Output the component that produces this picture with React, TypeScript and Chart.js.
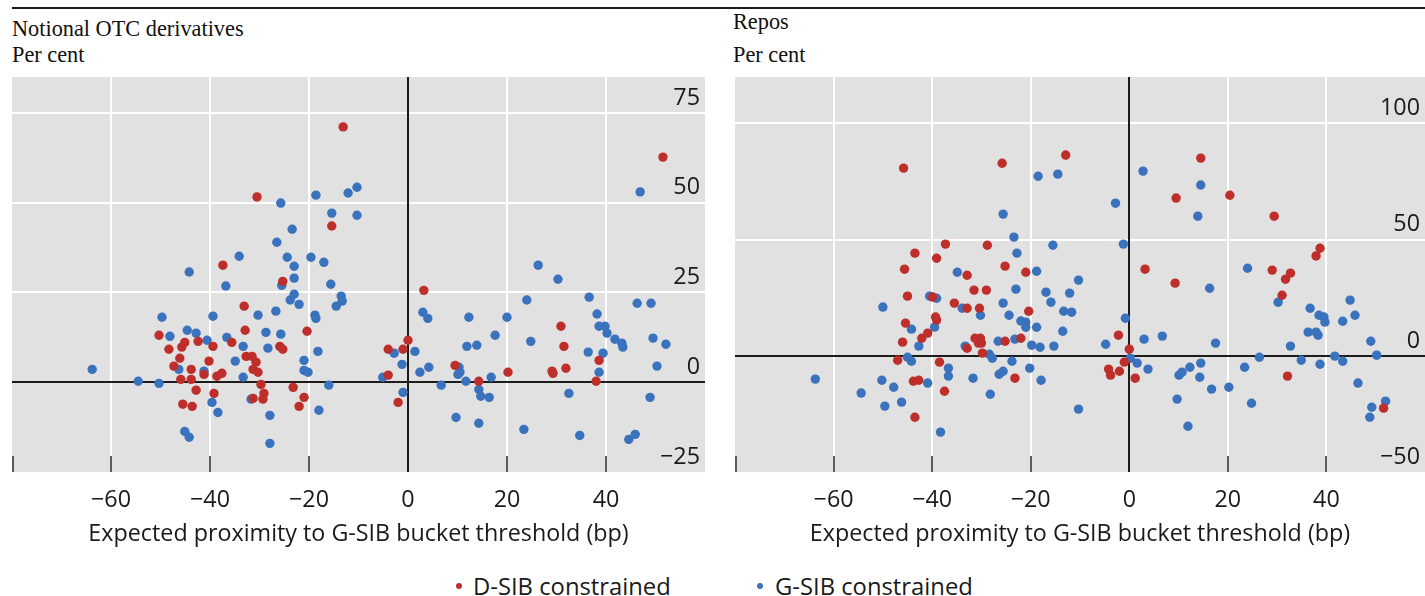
import React, { useEffect, useRef } from "react";
import { Chart, registerables } from "chart.js";

Chart.register(...registerables);

type Pt = [number, number];

// ---------- DATA ----------
const panelTitles = ["Notional OTC derivatives", "Repos"];
const unitLabel = "Per cent";
const xAxisTitle = "Expected proximity to G-SIB bucket threshold (bp)";
const seriesNames = ["D-SIB constrained", "G-SIB constrained"];

const xTickValues = [-80, -60, -40, -20, 0, 20, 40, 60];
const otcYTickValues = [-25, 0, 25, 50, 75];
const repoYTickValues = [-50, 0, 50, 100];

// Notional OTC derivatives: [proximity (bp), per cent]
const otcDsib: Pt[] = [
  [-37.4, 32.6], [-50.3, 13.1], [-45.1, 11.1], [-45.7, 9.8], [-42.4, 11.4], [-39.4, 10.0],
  [-35.6, 11.1], [-48.3, 9.2], [-46.1, 6.7], [-40.2, 5.9], [-47.3, 4.5], [-43.8, 3.6],
  [-41.2, 2.2], [-38.6, 1.7], [-37.6, 2.5], [-45.9, 0.8], [-43.8, 0.8], [-42.8, -2.2],
  [-39.2, -3.1], [-45.5, -6.1], [-43.6, -6.7], [-33.1, 21.2], [-32.9, 14.5], [-32.7, 7.2],
  [-31.5, 7.2], [-30.7, 5.6], [-31.3, 3.6], [-30.3, 2.8], [-29.7, -0.6], [-29.1, -3.1],
  [-29.3, -4.7], [-31.3, -4.5], [-30.5, 51.6], [-25.3, 28.1], [-20.4, 14.2], [-25.9, 10.0],
  [-25.3, 9.2], [-23.2, -1.4], [-21.0, -4.2], [-22.0, -6.7], [-13.1, 71.1], [-15.4, 43.5],
  [-4.0, 9.2], [-1.0, 9.2], [0.0, 11.7], [-4.0, 2.0], [-2.0, -5.6], [3.2, 25.6],
  [51.5, 62.7], [30.9, 15.6], [31.5, 10.0], [38.6, 6.1], [20.2, 2.8], [29.1, 3.1],
  [29.3, 2.5], [31.9, 3.9], [9.5, 4.7], [14.3, 0.3], [38.0, 0.3],
];

const otcGsib: Pt[] = [
  [-63.8, 3.6], [-54.5, 0.3], [-50.3, -0.3], [-49.7, 18.1], [-44.2, 30.7], [-36.8, 26.8],
  [-34.1, 35.1], [-39.4, 18.4], [-48.1, 12.8], [-44.6, 14.5], [-42.8, 13.7], [-40.6, 11.7],
  [-36.6, 12.5], [-34.9, 5.9], [-46.3, 3.6], [-41.2, 3.1], [-39.6, -5.6], [-38.4, -8.4],
  [-45.1, -13.7], [-44.2, -15.3], [-33.3, 1.4], [-33.3, 10.0], [-30.3, 18.7], [-26.7, 19.8],
  [-28.7, 13.9], [-25.7, 13.4], [-28.3, 9.5], [-31.7, -4.7], [-27.9, -9.2], [-27.9, -17.0],
  [-25.7, 49.9], [-18.6, 52.1], [-12.1, 52.7], [-10.3, 54.3], [-15.4, 47.1], [-10.3, 46.5],
  [-23.4, 42.6], [-26.5, 39.0], [-24.4, 34.8], [-23.0, 32.3], [-19.6, 34.8], [-17.0, 33.4],
  [-23.0, 29.0], [-25.5, 27.0], [-15.6, 27.3], [-23.0, 24.5], [-23.8, 22.9], [-22.0, 21.7],
  [-13.5, 24.0], [-13.3, 22.6], [-14.5, 21.2], [-18.8, 18.7], [-18.6, 17.8], [-18.2, 8.6],
  [-21.0, 6.1], [-21.0, 3.3], [-20.2, 2.8], [-16.0, -0.8], [-18.0, -7.8], [-2.8, 8.1],
  [1.4, 8.6], [-1.2, 5.0], [-5.1, 1.4], [-1.0, -2.8], [2.4, 2.8], [4.2, 4.2],
  [3.0, 19.5], [4.0, 17.8], [12.3, 18.1], [20.0, 18.1], [17.6, 13.1], [24.8, 11.4],
  [26.3, 32.6], [30.3, 28.7], [24.0, 22.9], [36.6, 23.7], [38.2, 19.0], [38.6, 15.6],
  [39.8, 15.6], [40.2, 13.7], [41.8, 12.0], [43.2, 10.9], [43.4, 9.8], [46.3, 22.0],
  [49.1, 22.0], [49.5, 12.3], [52.1, 10.6], [46.9, 53.0], [11.9, 10.0], [13.9, 10.3],
  [36.4, 8.4], [39.4, 8.1], [50.3, 4.5], [38.6, 2.8], [10.3, 4.2], [10.5, 2.8],
  [10.1, 2.2], [16.8, 1.4], [11.7, 0.3], [6.7, -0.8], [14.3, -2.0], [14.7, -3.9],
  [16.4, -4.2], [32.5, -3.1], [48.9, -4.2], [9.7, -9.8], [14.3, -11.4], [23.4, -13.1],
  [34.7, -14.8], [44.6, -15.9], [45.9, -14.5],
];

// Repos: [proximity (bp), per cent]
const repoDsib: Pt[] = [
  [-45.8, 80.8], [-37.3, 48.1], [-43.5, 44.2], [-39.1, 42.0], [-45.6, 37.3], [-32.9, 34.7],
  [-45.0, 25.7], [-39.9, 25.3], [-35.5, 22.7], [-32.9, 20.5], [-39.3, 16.7], [-39.1, 15.4],
  [-45.4, 14.1], [-40.9, 9.8], [-42.1, 7.6], [-46.0, 5.9], [-32.9, 3.3], [-47.0, -1.9],
  [-38.5, -2.7], [-43.8, -10.9], [-42.7, -10.5], [-37.5, -15.2], [-43.5, -26.4], [-25.8, 82.9],
  [-12.9, 86.4], [-28.8, 47.6], [-25.2, 38.6], [-21.0, 36.0], [-31.5, 28.3], [-29.0, 28.3],
  [-30.4, 20.5], [-20.4, 19.2], [-31.3, 7.6], [-30.2, 7.6], [-30.6, 5.5], [-30.0, 5.5],
  [-25.2, 6.3], [-22.0, 7.6], [-29.8, 1.2], [-23.2, -9.6], [3.2, 37.3], [-2.2, 8.9],
  [0.0, 2.9], [-1.0, -2.7], [-4.2, -5.7], [-3.8, -8.3], [-2.0, -6.6], [1.2, -9.6],
  [14.5, 85.1], [9.5, 67.9], [20.4, 69.1], [29.4, 60.1], [38.7, 46.3], [37.9, 43.0],
  [9.3, 31.3], [29.0, 36.9], [32.7, 35.6], [31.7, 33.0], [31.0, 26.1], [32.1, -8.7],
  [51.6, -22.5],
];

const repoGsib: Pt[] = [
  [-34.9, 36.0], [-40.5, 25.7], [-39.1, 24.8], [-33.9, 20.5], [-50.0, 21.0], [-39.5, 12.4],
  [-44.2, 11.5], [-42.7, 4.2], [-33.3, 4.2], [-45.0, -0.6], [-44.2, -2.3], [-36.7, -5.3],
  [-36.7, -8.7], [-63.7, -10.0], [-50.2, -10.5], [-40.9, -11.7], [-47.8, -13.5], [-54.4, -16.0],
  [-49.6, -21.6], [-46.2, -19.9], [-38.3, -32.8], [-31.7, -9.6], [-18.5, 77.3], [-14.5, 78.2],
  [2.8, 79.5], [-2.8, 65.7], [-25.6, 61.0], [-23.4, 51.1], [-15.5, 47.6], [-1.2, 48.1],
  [-22.8, 44.2], [-18.8, 36.4], [-10.3, 32.6], [-23.0, 28.7], [-16.9, 27.4], [-12.1, 27.0],
  [-30.2, 17.5], [-25.6, 22.7], [-15.9, 23.1], [-24.4, 17.5], [-13.3, 19.2], [-11.7, 18.8],
  [-22.0, 15.0], [-21.0, 14.5], [-21.0, 12.3], [-18.8, 12.3], [-0.8, 16.2], [-13.5, 10.6],
  [3.0, 7.2], [-26.6, 6.3], [-23.2, 7.2], [-19.8, 4.6], [-18.1, 3.7], [-15.3, 4.2],
  [-4.8, 5.0], [-28.4, 0.7], [-27.8, -1.0], [-23.8, -2.3], [0.2, -1.0], [1.6, -3.1],
  [-20.2, -5.3], [-25.6, -6.6], [-26.4, -7.9], [-17.9, -10.5], [-28.2, -16.5], [-10.3, -22.9],
  [3.8, -5.7], [14.5, 73.5], [13.9, 60.1], [24.0, 37.7], [16.3, 29.1], [30.2, 23.1],
  [44.8, 24.0], [36.7, 20.5], [38.5, 17.5], [39.5, 16.7], [39.7, 14.5], [45.8, 17.5],
  [43.3, 14.9], [36.3, 10.2], [37.9, 10.2], [38.3, 8.9], [6.7, 8.5], [49.0, 6.3],
  [17.5, 5.5], [32.7, 4.2], [50.2, 0.3], [26.4, -0.6], [41.7, -0.1], [43.3, -2.3],
  [34.9, -1.9], [38.7, -3.6], [14.5, -3.1], [12.3, -4.9], [10.7, -7.0], [10.1, -8.3],
  [14.3, -9.2], [23.4, -4.9], [16.7, -14.3], [20.2, -13.5], [46.4, -11.7], [9.7, -18.6],
  [24.8, -20.4], [49.2, -22.1], [52.0, -19.5], [48.8, -26.4], [11.9, -30.3],
];

// ---------- STYLE ----------
const RED = "#BE2F2B";
const BLUE = "#3A72BD";
const PLOT_BG = "#E1E1E1";
const ZERO_LINE = "#1c1c1c";
const TEXT = "#1a1a1a";
const SANS = "'Open Sans', 'Noto Sans', sans-serif";
const SERIF = "'Liberation Serif', 'DejaVu Serif', serif";
const TICK_SIZE = 23.3;
const LEGEND_SIZE = 23.8;

const fmt = (v: number) => (v < 0 ? "\u2212" + Math.abs(v) : String(v));
const CLEAR = "rgba(0,0,0,0)";

const framePlugin = {
  id: "frame",
  beforeDraw(chart: any) {
    const { ctx, chartArea: a } = chart;
    ctx.save();
    ctx.fillStyle = PLOT_BG;
    ctx.fillRect(a.left, a.top, a.right - a.left, a.bottom - a.top);
    ctx.restore();
  },
  beforeDatasetsDraw(chart: any) {
    const { ctx, chartArea: a, scales } = chart;
    const x = scales.x;
    const y = scales.y;
    ctx.save();
    // inner tick marks along the bottom edge
    ctx.strokeStyle = "#5c5c5c";
    ctx.lineWidth = 2;
    x.ticks.forEach((t: any) => {
      if (t.value >= x.max) return;
      let px = Math.round(x.getPixelForValue(t.value));
      if (px <= a.left) px = a.left + 1;
      ctx.beginPath();
      ctx.moveTo(px, a.bottom - 16);
      ctx.lineTo(px, a.bottom);
      ctx.stroke();
    });
    // zero lines
    ctx.strokeStyle = ZERO_LINE;
    ctx.lineWidth = 2;
    const y0 = Math.round(y.getPixelForValue(0));
    ctx.beginPath();
    ctx.moveTo(a.left, y0);
    ctx.lineTo(a.right, y0);
    ctx.stroke();
    const x0 = Math.round(x.getPixelForValue(0));
    ctx.beginPath();
    ctx.moveTo(x0, a.top);
    ctx.lineTo(x0, a.bottom);
    ctx.stroke();
    ctx.restore();
  },
};

type PanelProps = {
  left: number;
  top: number;
  width: number;
  height: number;
  dsib: Pt[];
  gsib: Pt[];
  yMin: number;
  yMax: number;
  yTicks: number[];
};

function Panel({ left, top, width, height, dsib, gsib, yMin, yMax, yTicks }: PanelProps) {
  const ref = useRef<HTMLCanvasElement | null>(null);
  useEffect(() => {
    if (!ref.current) return;
    const xMin = -80;
    const xMax = 60;
    const chart = new Chart(ref.current, {
      type: "scatter",
      data: {
        datasets: [
          {
            label: seriesNames[0],
            data: dsib.map(([x, y]) => ({ x, y })),
            backgroundColor: RED,
            borderWidth: 0,
            pointRadius: 4.7,
          },
          {
            label: seriesNames[1],
            data: gsib.map(([x, y]) => ({ x, y })),
            backgroundColor: BLUE,
            borderWidth: 0,
            pointRadius: 4.7,
          },
        ],
      },
      options: {
        responsive: false,
        animation: false,
        events: [],
        layout: { autoPadding: false, padding: { top: 0, left: 0, right: 0, bottom: 6 } },
        plugins: {
          legend: { display: false },
          tooltip: { enabled: false },
          title: { display: false },
        },
        scales: {
          x: {
            type: "linear",
            position: "bottom",
            min: xMin,
            max: xMax,
            afterBuildTicks: (s: any) => {
              s.ticks = xTickValues.map((v) => ({ value: v }));
            },
            grid: {
              color: (c: any) =>
                c.tick && (c.tick.value === 0 || c.tick.value === xMin || c.tick.value === xMax)
                  ? CLEAR
                  : "#ffffff",
              lineWidth: 2,
              drawTicks: true,
              tickLength: 14,
              tickColor: CLEAR,
            },
            border: { display: false },
            ticks: {
              padding: 0,
              autoSkip: false,
              maxRotation: 0,
              color: TEXT,
              font: { family: SANS, size: TICK_SIZE },
              callback: (v: any) => (v === xMin || v === xMax ? "" : fmt(Number(v))),
            },
            title: {
              display: true,
              text: xAxisTitle,
              color: TEXT,
              font: { family: SANS, size: TICK_SIZE },
              padding: { top: 6, bottom: 0 },
            },
          },
          y: {
            type: "linear",
            position: "right",
            min: yMin,
            max: yMax,
            afterBuildTicks: (s: any) => {
              s.ticks = yTicks.map((v) => ({ value: v }));
            },
            grid: {
              color: (c: any) =>
                c.tick && (c.tick.value === 0 || c.tick.value === yMin || c.tick.value === yMax)
                  ? CLEAR
                  : "#ffffff",
              lineWidth: 2,
              drawTicks: false,
            },
            border: { display: false },
            ticks: {
              mirror: true,
              padding: -5,
              labelOffset: -15,
              color: TEXT,
              font: { family: SANS, size: TICK_SIZE },
              callback: (v: any) => fmt(Number(v)),
            },
          },
        },
      } as any,
      plugins: [framePlugin],
    });
    return () => chart.destroy();
  }, []);
  return (
    <canvas
      ref={ref}
      width={width}
      height={height}
      style={{ position: "absolute", left, top, width, height }}
    />
  );
}

const titleStyle: React.CSSProperties = {
  position: "absolute",
  fontFamily: SERIF,
  fontSize: 22.3,
  lineHeight: "26px",
  color: "#111",
  whiteSpace: "nowrap",
};

const legendText: React.CSSProperties = {
  position: "absolute",
  fontFamily: SANS,
  fontSize: LEGEND_SIZE,
  lineHeight: "30px",
  color: TEXT,
  whiteSpace: "nowrap",
  top: 571,
};

function Dot({ cx, color }: { cx: number; color: string }) {
  return (
    <span
      style={{
        position: "absolute",
        left: cx - 3,
        top: 583,
        width: 6,
        height: 6,
        borderRadius: "50%",
        background: color,
      }}
    />
  );
}

export default function App() {
  return (
    <div
      style={{
        position: "fixed",
        left: 0,
        top: 0,
        width: 1425,
        height: 596,
        background: "#ffffff",
        overflow: "hidden",
      }}
    >
      <div style={{ position: "absolute", left: 12, top: 7, width: 1413, height: 2, background: "#1a1a1a" }} />
      <div style={{ ...titleStyle, left: 12, top: 16 }}>{panelTitles[0]}</div>
      <div style={{ ...titleStyle, left: 12, top: 42 }}>{unitLabel}</div>
      <div style={{ ...titleStyle, left: 733, top: 9 }}>{panelTitles[1]}</div>
      <div style={{ ...titleStyle, left: 733, top: 42 }}>{unitLabel}</div>

      <Panel left={12} top={68} width={693} height={486} dsib={otcDsib} gsib={otcGsib} yMin={-25} yMax={85} yTicks={otcYTickValues} />
      <Panel left={735} top={68} width={690} height={486} dsib={repoDsib} gsib={repoGsib} yMin={-50} yMax={120} yTicks={repoYTickValues} />

      <Dot cx={459} color={RED} />
      <div style={{ ...legendText, left: 473 }}>{seriesNames[0]}</div>
      <Dot cx={760} color={BLUE} />
      <div style={{ ...legendText, left: 775 }}>{seriesNames[1]}</div>
    </div>
  );
}
